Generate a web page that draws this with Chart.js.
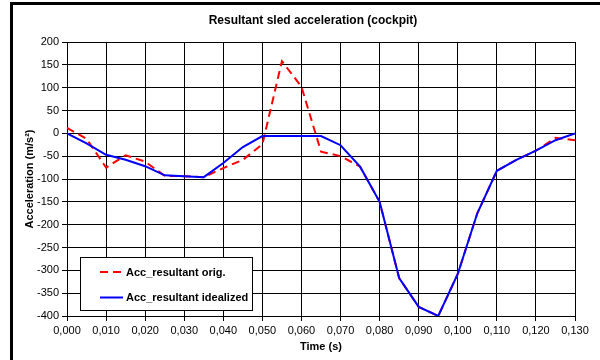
<!DOCTYPE html>
<html>
<head>
<meta charset="utf-8">
<script src="https://cdn.jsdelivr.net/npm/chart.js@4"></script>
<style>
  html, body { margin: 0; padding: 0; background: #fff; }
  #wrap { width: 600px; height: 360px; }
</style>
</head>
<body>
<div id="wrap"><canvas id="chart" width="600" height="360"></canvas></div>
<script>
// time in seconds
const times = [0.000, 0.005, 0.010, 0.015, 0.020, 0.025, 0.030, 0.035, 0.040, 0.045,
  0.050, 0.055, 0.060, 0.065, 0.070, 0.075, 0.080, 0.085, 0.090, 0.095,
  0.100, 0.105, 0.110, 0.115, 0.120, 0.125, 0.130];
const accOrig = [12, -12, -75, -48, -62, -93, -94, -96, -76, -58,
  -24, 158, 102, -40, -50, -73, -150, -317, -380, -400,
  -308, -175, -82, -58, -38, -10, -15];
const accIdeal = [0, -22, -47, -58, -72, -92, -94, -96, -65, -30,
  -6, -6, -6, -6, -26, -73, -150, -317, -380, -400,
  -308, -175, -82, -58, -38, -15, 0];
const seriesNames = ["Acc_resultant orig.", "Acc_resultant idealized"];
const chartTitle = "Resultant sled acceleration (cockpit)";

const FONT = "'Liberation Sans', Arial, sans-serif";

function pts(ys) {
  return times.map((t, i) => ({ x: t, y: ys[i] }));
}

// title + outer frame + legend box inside the plot
const decor = {
  id: 'decor',
  beforeDraw(chart) {
    const c = chart.ctx;
    c.save();
    c.fillStyle = '#fff';
    c.fillRect(0, 0, chart.width, chart.height);
    c.fillStyle = '#000';
    c.fillRect(10, 2, 3, chart.height - 2);
    c.fillRect(10, 2, chart.width - 10, 3);
    c.font = "bold 12px " + FONT;
    c.textAlign = 'center';
    c.textBaseline = 'middle';
    c.fillText(chartTitle, 313, 21);
    c.restore();
  },
  afterDraw(chart) {
    const c = chart.ctx;
    c.save();
    c.fillStyle = '#fff';
    c.fillRect(80.5, 257.5, 172, 53);
    c.strokeStyle = '#000';
    c.lineWidth = 1;
    c.strokeRect(80.5, 257.5, 172, 53);
    c.font = "bold 11px " + FONT;
    c.textBaseline = 'middle';
    c.textAlign = 'left';
    chart.data.datasets.forEach((ds, i) => {
      const y = 272 + i * 25.5;
      c.strokeStyle = ds.borderColor;
      c.lineWidth = ds.borderWidth;
      c.setLineDash(ds.borderDash || []);
      c.beginPath();
      c.moveTo(100, y);
      c.lineTo(123, y);
      c.stroke();
      c.setLineDash([]);
      c.fillStyle = '#000';
      c.fillText(ds.label, 126, y + 0.5);
    });
    c.restore();
  }
};

new Chart(document.getElementById("chart"), {
  type: 'line',
  data: {
    datasets: [{
      label: seriesNames[0],
      data: pts(accOrig),
      borderColor: '#ff0000',
      borderWidth: 2,
      borderDash: [8, 5],
      pointRadius: 0,
      tension: 0,
      order: 2
    }, {
      label: seriesNames[1],
      data: pts(accIdeal),
      borderColor: '#0000ff',
      borderWidth: 2,
      pointRadius: 0,
      tension: 0,
      order: 1
    }]
  },
  options: {
    responsive: false,
    animation: false,
    layout: { padding: { left: 14, right: 25, top: 42, bottom: 4 } },
    plugins: {
      legend: { display: false },
      title: { display: false },
      tooltip: { enabled: false }
    },
    scales: {
      x: {
        type: 'linear',
        min: 0,
        max: 0.13,
        afterFit(s) { s.height = 40; },
        ticks: {
          stepSize: 0.01,
          color: '#000',
          font: { family: FONT, size: 11 },
          padding: 3,
          maxRotation: 0,
          callback: v => v.toFixed(3).replace('.', ',')
        },
        grid: { color: '#000', lineWidth: 1, tickLength: 5 },
        border: { color: '#000', width: 1 },
        title: {
          display: true,
          text: 'Time (s)',
          color: '#000',
          font: { family: FONT, size: 11, weight: 'bold' },
          padding: { top: 0, bottom: 2 }
        }
      },
      y: {
        min: -400,
        max: 200,
        afterFit(s) { s.width = 53; },
        ticks: {
          stepSize: 50,
          color: '#000',
          font: { family: FONT, size: 11 },
          padding: 3,
          callback: v => String(v)
        },
        grid: { color: '#000', lineWidth: 1, tickLength: 5 },
        border: { color: '#000', width: 1 },
        title: {
          display: true,
          text: 'Acceleration (m/s²)',
          color: '#000',
          font: { family: FONT, size: 11, weight: 'bold' },
          padding: { top: 9, bottom: 0 }
        }
      }
    }
  },
  plugins: [decor]
});
</script>
</body>
</html>
